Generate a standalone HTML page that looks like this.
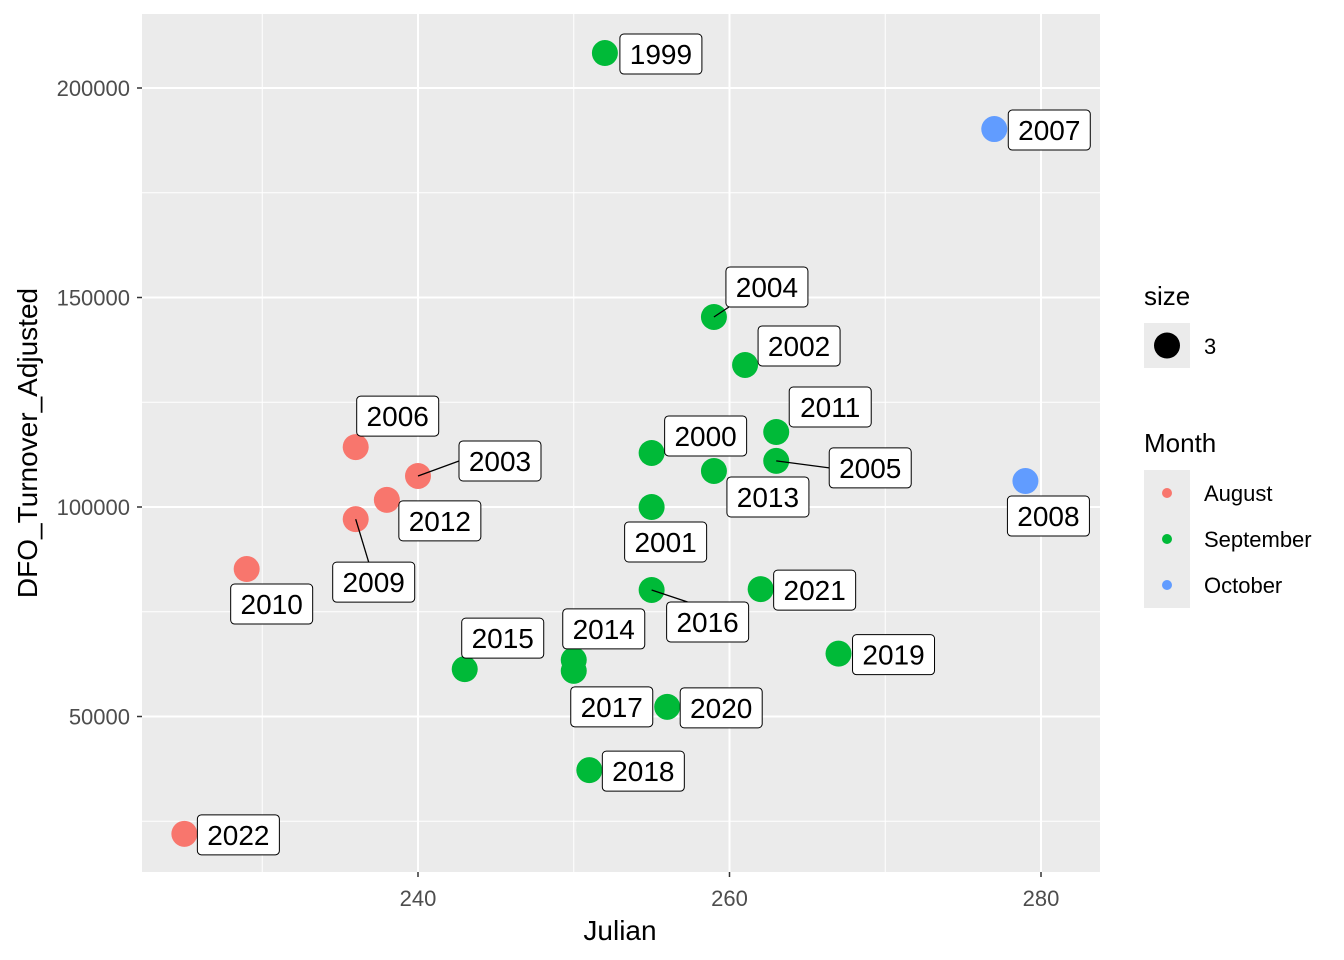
<!DOCTYPE html>
<html><head><meta charset="utf-8"><style>body{margin:0;background:#fff}svg{display:block;font-family:"Liberation Sans",Arial,sans-serif}</style></head>
<body>
<svg id="c" width="1344" height="960"></svg>
<script>
const years=[1999,2007,2004,2002,2011,2000,2005,2013,2008,2006,2003,2012,2009,2001,2010,2016,2021,2015,2014,2017,2019,2020,2018,2022];
const julian=[252,277,259,261,263,255,263,259,279,236,240,238,236,255,229,255,262,243,250,250,267,256,251,225];
const turnover=[208350,190200,145350,133900,117900,112900,111000,108600,106200,114300,107400,101700,97100,100000,85200,80200,80400,61300,63500,60900,65000,52300,37200,22000];
const months=["September","October","September","September","September","September","September","September","October","August","August","August","August","September","August","September","September","September","September","September","September","September","September","August"];
const xTicks=[240,260,280];
const yTicks=[50000,100000,150000,200000];
const monthNames=["August","September","October"];
// label placement offsets (pixel style, not data)
const lblOff={1999:[56,1],2007:[55,1],2004:[53,-30,1],2002:[54,-19],2011:[54,-25],2000:[54,-17],2005:[94,7,1],2013:[54,26],2008:[23,35],2006:[42,-31],2003:[82,-15,1],2012:[53,21],2009:[18,63,1],2001:[14,35],2010:[25,35],2016:[56,32,1],2021:[54,1],2015:[38,-31],2014:[30,-31],2017:[38,36],2019:[55,1],2020:[54,1],2018:[54,1],2022:[54,1]};
const colors={August:"#F8766D",September:"#00BA38",October:"#619CFF"};
const X=v=>418+(v-240)*15.575;
const Y=v=>88+(200000-v)*0.00419;
const svg=document.getElementById('c');const NS="http://www.w3.org/2000/svg";
function mk(t,a,p){const e=document.createElementNS(NS,t);for(const k in a)e.setAttribute(k,a[k]);(p||svg).appendChild(e);return e;}
const PL=142,PR=1100,PT=14,PB=872;
const bg=mk('rect',{x:PL,y:PT,width:PR-PL,height:PB-PT,fill:'#EBEBEB'});


for(const v of [230,250,270]){mk('line',{x1:X(v),x2:X(v),y1:PT,y2:PB,stroke:'#fff','stroke-width':1});}
for(const v of [25000,75000,125000,175000]){mk('line',{x1:PL,x2:PR,y1:Y(v),y2:Y(v),stroke:'#fff','stroke-width':1});}
xTicks.forEach(v=>{mk('line',{x1:X(v),x2:X(v),y1:PT,y2:PB,stroke:'#fff','stroke-width':2});
 mk('line',{x1:X(v),x2:X(v),y1:PB,y2:PB+5,stroke:'#333','stroke-width':1.5});
 const t=mk('text',{x:X(v),y:PB+34,'text-anchor':'middle','font-size':22,fill:'#4D4D4D'});t.textContent=v;
 
 });
yTicks.forEach(v=>{mk('line',{x1:PL,x2:PR,y1:Y(v),y2:Y(v),stroke:'#fff','stroke-width':2});
 mk('line',{x1:PL-5,x2:PL,y1:Y(v),y2:Y(v),stroke:'#333','stroke-width':1.5});
 const t=mk('text',{x:PL-12,y:Y(v)+8,'text-anchor':'end','font-size':22,fill:'#4D4D4D'});t.textContent=v;
 
 });
const xt=mk('text',{x:620,y:940,'text-anchor':'middle','font-size':28,fill:'#000'});xt.textContent='Julian';


const yt=mk('text',{x:37,y:443,'text-anchor':'middle','font-size':28,fill:'#000',transform:'rotate(-90 37 443)'});yt.textContent='DFO_Turnover_Adjusted';


// points
years.forEach((yr,i)=>{const c=mk('circle',{cx:X(julian[i]),cy:Y(turnover[i]),r:13,fill:colors[months[i]]});
 
 });
// labels
years.forEach((yr,i)=>{const px=X(julian[i]),py=Y(turnover[i]);const o=lblOff[yr]||[54,1];
 const cx=px+o[0],cy=py+o[1];
 if(o[2]){let x2,y2;
  if(yr===2004){x2=cx-38;y2=cy+20;}
  else if(Math.abs(o[0])>60){x2=cx-41;y2=cy;}
  else if(o[1]>40){x2=cx-Math.min(Math.abs(o[0]),5);y2=cy-20;}
  else {x2=cx-20;y2=cy-20;}
  mk('line',{x1:px,y1:py,x2:x2,y2:y2,stroke:'#000','stroke-width':1.3});}
 const g=mk('g',{});
 
 
 mk('rect',{x:cx-41,y:cy-20,width:82,height:40,rx:4,fill:'#fff',stroke:'#000','stroke-width':1},g);
 const t=mk('text',{x:cx,y:cy+10,'text-anchor':'middle','font-size':28,fill:'#000'},g);t.textContent=yr;});
// legend
const lt=mk('text',{x:1144,y:305,'font-size':26});lt.textContent='size';


mk('rect',{x:1144,y:323,width:46,height:45,fill:'#EBEBEB'});
mk('circle',{cx:1167,cy:345.5,r:13,fill:'#000'});
const l3=mk('text',{x:1204,y:354,'font-size':22});l3.textContent='3';


const mt=mk('text',{x:1144,y:452,'font-size':26});mt.textContent='Month';


monthNames.forEach((m,i)=>{const y0=470+i*46;const g=mk('g',{});
 
 
 mk('rect',{x:1144,y:y0,width:46,height:46,fill:'#EBEBEB'},g);
 mk('circle',{cx:1167,cy:y0+23,r:5,fill:colors[m]},g);
 const t=mk('text',{x:1204,y:y0+31,'font-size':22},g);t.textContent=m;});
</script>
</body></html>
